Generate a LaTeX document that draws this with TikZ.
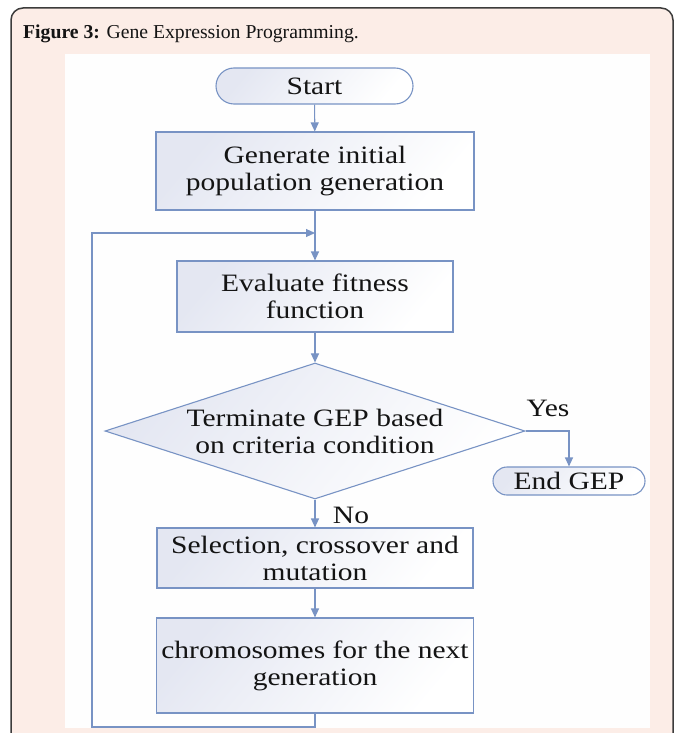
\documentclass[tikz,border=0pt]{standalone}
\usepackage{fontspec}
\setmainfont{Liberation Serif}[FakeStretch=1.18]
\newfontfamily\capfont{Liberation Serif}
\usetikzlibrary{arrows.meta,shapes.geometric,shapes.misc}
\definecolor{pinkbg}{RGB}{252,237,231}
\definecolor{framec}{RGB}{60,60,60}
\definecolor{flow}{RGB}{120,147,196}
\definecolor{boxl}{RGB}{228,231,242}
\definecolor{txt}{RGB}{20,20,20}
\begin{document}
\begin{tikzpicture}[x=1pt,y=-1pt,
  every node/.style={text=txt},
  bigfont/.style={font=\fontsize{25}{27}\selectfont},
  shadebox/.style={draw=flow, line width=1.1pt, top color=boxl, bottom color=white, shading angle=50},
  proc/.style={shadebox, rectangle, inner sep=2pt, align=center, bigfont},
  termbox/.style={shadebox, rounded rectangle, inner sep=0pt, bigfont},
  decbox/.style={shadebox, diamond, aspect=3.09, inner sep=0pt, align=center, bigfont},
  flowarrow/.style={draw=flow, line width=1.1pt, -{Triangle[width=8pt,length=9pt]}},
  lbl/.style={bigfont, inner sep=0pt}
]
\useasboundingbox (0,0) rectangle (680,733);
\clip (0,0) rectangle (680,733);
\fill[white] (0,0) rectangle (680,733);
\draw[framec, line width=1.5pt, fill=pinkbg, rounded corners=12pt] (11,8) rectangle (673,760);
\fill[white!99!gray] (65,54) rectangle (650,728);

\node[anchor=base west, inner sep=0pt, font=\capfont\fontsize{19.7}{22}\selectfont] (cap) at (23,39) {\textbf{Figure 3:} Gene Expression Programming.};

\node[termbox, minimum width=197pt, minimum height=36pt] (start) at (314.5,86) {Start};
\node[proc, minimum width=318pt, minimum height=78pt] (gen) at (315,171) {Generate initial\\population generation};
\node[proc, minimum width=276pt, minimum height=71pt] (eval) at (315,296.5) {Evaluate fitness\\function};
\node[decbox, minimum width=420pt, minimum height=136pt] (check) at (315,431) {Terminate GEP based\\on criteria condition};
\node[proc, minimum width=316pt, minimum height=60pt] (sel) at (315,558) {Selection, crossover and\\mutation};
\node[proc, minimum width=317pt, minimum height=95pt] (chrom) at (315,665.5) {chromosomes for the next\\generation};
\node[termbox, minimum width=152pt, minimum height=28pt] (endgep) at (569,481) {End GEP};

\node[lbl] (yes) at (548,408) {Yes};
\node[lbl] (no) at (351,515) {No};

\coordinate (loopin) at (315,233);
\coordinate (lb) at (92,727);
\coordinate (lt) at (92,233);

\draw[flowarrow] (start) -- (gen);
\draw[flowarrow] (gen) -- (eval);
\draw[flowarrow] (eval) -- (check);
\draw[flowarrow] (check) -- (sel);
\draw[flowarrow] (sel) -- (chrom);
\draw[flowarrow] (check.east) -| (endgep.north);
\draw[flowarrow] (chrom.south) |- (lb) -- (lt) -- (loopin);
\end{tikzpicture}
\end{document}
